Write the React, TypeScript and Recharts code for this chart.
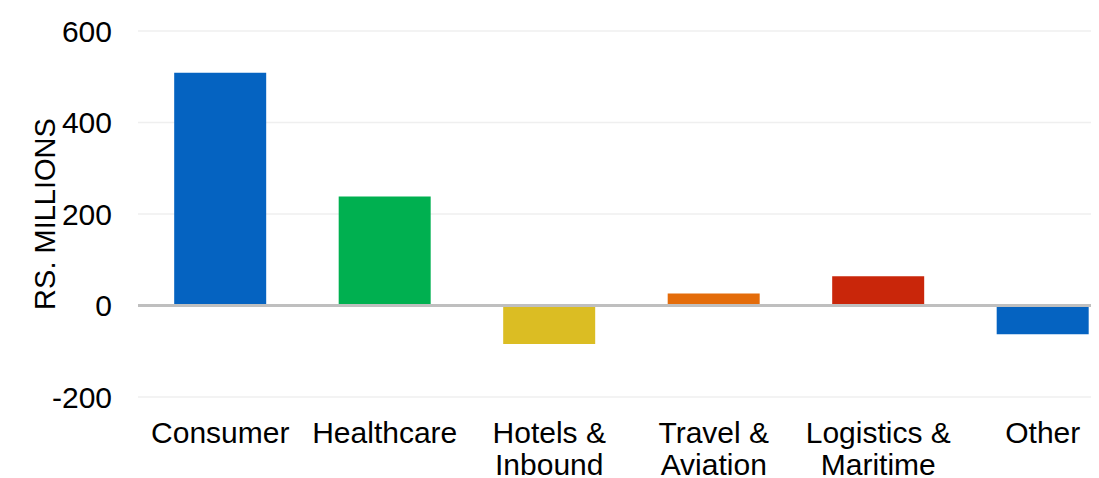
import React from "react";
import { BarChart, Bar, XAxis, YAxis, CartesianGrid, ReferenceLine, Cell } from "recharts";

const categories = ["Consumer", "Healthcare", "Hotels & Inbound", "Travel & Aviation", "Logistics & Maritime", "Other"];
const tickLines: string[][] = [
  ["Consumer"],
  ["Healthcare"],
  ["Hotels &", "Inbound"],
  ["Travel &", "Aviation"],
  ["Logistics &", "Maritime"],
  ["Other"],
];
const values = [509, 238, -84, 26, 64, -63];
const colors = ["#0563C1", "#00B050", "#DBBD23", "#E46C0A", "#C9260A", "#0563C1"];
const yTicks = [-200, 0, 200, 400, 600];

const data = categories.map((c, i) => ({ name: c, value: values[i], idx: i }));

const FONT = "'Liberation Sans', Arial, sans-serif";

const XTick = (props: any) => {
  const { x, y, payload } = props;
  const idx = categories.indexOf(payload.value);
  const lines = tickLines[idx] || [payload.value];
  return (
    <text x={x} y={y} textAnchor="middle" fontFamily={FONT} fontSize={30} fill="#000">
      {lines.map((l, i) => (
        <tspan key={i} x={x} dy={i === 0 ? 38 : 32}>
          {l}
        </tspan>
      ))}
    </text>
  );
};

const YLabel = (props: any) => {
  const { viewBox } = props;
  const cx = 37;
  const cy = viewBox.y + viewBox.height / 2;
  return (
    <text
      x={cx}
      y={cy}
      transform={`rotate(-90, ${cx}, ${cy})`}
      textAnchor="middle"
      dominantBaseline="central"
      fontFamily={FONT}
      fontSize={29}
      fill="#000"
    >
      RS. MILLIONS
    </text>
  );
};

export default function App() {
  return (
    <BarChart
      width={1120}
      height={470}
      data={data}
      margin={{ top: 23, right: 3, bottom: 1, left: 0 }}
      barCategoryGap="22%"
    >
      <CartesianGrid vertical={false} stroke="#efefef" strokeWidth={1.5} />
      <XAxis dataKey="name" axisLine={false} tickLine={false} tick={<XTick />} height={80} interval={0} />
      <YAxis
        width={130}
        domain={[-200, 600]}
        ticks={yTicks}
        axisLine={false}
        tickLine={false}
        tickSize={0}
        tickMargin={26}
        tick={{ fontFamily: FONT, fontSize: 30, fill: "#000" }}
        label={<YLabel />}
      />
      <Bar dataKey="value" isAnimationActive={false}>
        {data.map((d, i) => (
          <Cell key={i} fill={colors[i]} />
        ))}
      </Bar>
      <ReferenceLine y={0} stroke="#bfbfbf" strokeWidth={3} />
    </BarChart>
  );
}
